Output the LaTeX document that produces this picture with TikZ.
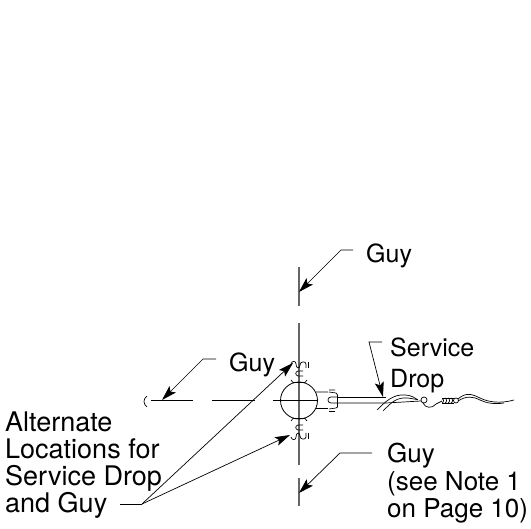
\documentclass[tikz,border=0pt]{standalone}
\usepackage{fontspec}
\setmainfont{TeX Gyre Heros}
\usetikzlibrary{arrows.meta}
\tikzset{
  lbl/.style={font=\fontsize{25}{28}\selectfont,anchor=base west,inner sep=0pt,align=left,text=black},
  lblwide/.style={lbl,font=\fontsize{26}{28}\selectfont},
  lblleft/.style={lbl,font=\fontsize{27}{28}\selectfont},
  lead/.style={draw=black,line width=0.7pt,-{Stealth[length=15pt,width=9pt,inset=3pt]}},
  part/.style={draw=black,line width=0.7pt},
  axis/.style={draw=black!60,line width=1.1pt},
  haxis/.style={draw=black,line width=0.8pt}
}
\begin{document}
\begin{tikzpicture}[x=1pt,y=-1pt]
\useasboundingbox (0,0) rectangle (531,529);
% axes
\draw[axis] (299,267) -- (299,306);
\draw[axis] (299,323) -- (299,465);
\draw[axis] (299,478) -- (299,506);
\draw[haxis] (151,400.5) -- (193,400.5);
\draw[haxis] (212,400.5) -- (255,400.5);
\draw[haxis] (273,400.5) -- (317,400.5);
\draw[part] (147,396) .. controls (143,399) and (143,404) .. (147,407);
% pole
\node[draw=black,line width=0.8pt,circle,minimum size=37pt,inner sep=0pt] (pole) at (299,400.5) {};
% top clamp
\draw[part] (291,364) .. controls (292,360) and (296,361) .. (296,364) .. controls (296,369) and (300,369) .. (300,365) .. controls (300,361) and (306,361) .. (306,364) -- (306,368);
\draw[part] (308,362) -- (308,368);
\draw[part] (303,371) -- (298,371) .. controls (295,372) and (295,375) .. (298,376) -- (303,376);
\draw[part] (291,380) -- (293,382.5) -- (305,382.5) -- (307,380);
% bottom clamp
\draw[part] (291,437) .. controls (292,441) and (296,440) .. (296,437) .. controls (296,432) and (300,432) .. (300,436) .. controls (300,440) and (306,440) .. (306,437) -- (306,433);
\draw[part] (308,439) -- (308,433);
\draw[part] (303,430) -- (298,430) .. controls (295,429) and (295,426) .. (298,425) -- (303,425);
\draw[part] (291,421) -- (293,418.5) -- (305,418.5) -- (307,421);
% side bracket and eye
\draw[part] (316,392) -- (328,392) (329,390) -- (335,390) (329,392) -- (336,393) -- (337.5,395) -- (337.5,407) -- (336,408) -- (329,409);
\draw[part] (316,408) -- (328,408) (329,411) -- (335,411);
\draw[part] (337,397) -- (331,397) .. controls (327,397) and (327,403) .. (331,403) -- (337,403);
% service drop
\draw[part] (337,397) -- (386,397);
\draw[part] (337,403) -- (386,403) -- (421,401);
\draw[part] (377,410) .. controls (385,402) and (393,394) .. (405,395) .. controls (411,395) and (415,398) .. (418,400);
\draw[part] (383,411) .. controls (391,403) and (396,397) .. (408,398) -- (417,399.5);
\draw[part] (424,400) circle (3);
\draw[part] (423,403) .. controls (425,408) and (432,409) .. (436,404) -- (442,401);
\draw[part] (442,399) .. controls (444,398) and (444,403) .. (442,403) (445,398) .. controls (447,398) and (447,403) .. (445,403) (448,398) .. controls (450,398) and (450,403) .. (448,403) (451,398) .. controls (453,398) and (453,403) .. (451,403);
\draw[part] (442,398) -- (454,398) (442,403) -- (454,403);
\draw[part] (456,400.5) circle (2.5);
\draw[part] (458,399) .. controls (466,392) and (472,394) .. (480,398) .. controls (488,402) and (500,404) .. (514,400);
\draw[part] (458,401) .. controls (466,396) and (472,396) .. (480,400) .. controls (486,403) and (494,404.5) .. (504,403);
% labels
\node[lbl] (g1) at (366,263) {Guy};
\node[lbl] (g2) at (229,372) {Guy};
\node[lbl] (sd) at (390,357) {Service};
\node[lbl] (sd2) at (390,388) {Drop};
\node[lblwide] (g3) at (387,463) {Guy};
\node[lblwide] (g4) at (387,491) {(see Note 1};
\node[lblwide] (g5) at (387,518) {on Page 10)};
\node[lblleft] (a1) at (5,432) {Alternate};
\node[lblleft] (a2) at (5,459) {Locations for};
\node[lblleft] (a3) at (5,486) {Service Drop};
\node[lblleft] (a4) at (5,513) {and Guy};
% leaders
\coordinate (t1) at (299,292);
\coordinate (t2) at (162,400);
\coordinate (t3) at (383,397);
\coordinate (t4) at (299,493);
\coordinate (t5) at (293,363);
\coordinate (t6) at (290,435);
\coordinate (e0) at (142,504);
\draw[lead] (353,250) -- (341,250) -- (t1);
\draw[lead] (216,359) -- (203,359) -- (t2);
\draw[lead] (382,342) -- (369,342) -- (t3);
\draw[lead] (372,453) -- (340,453) -- (t4);
\draw[part] (120,504) -- (e0);
\draw[lead] (e0) -- (t5);
\draw[lead] (e0) -- (t6);
\end{tikzpicture}
\end{document}
